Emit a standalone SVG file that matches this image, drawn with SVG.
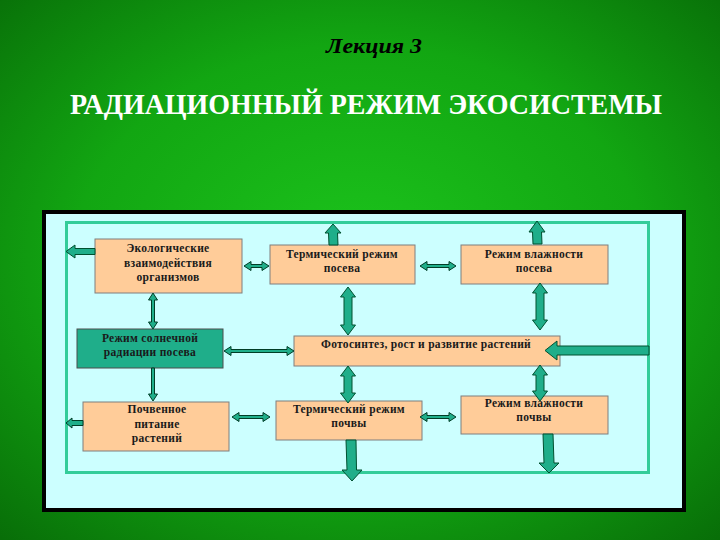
<svg xmlns="http://www.w3.org/2000/svg" width="720" height="540" viewBox="0 0 720 540">
  <defs>
    <radialGradient id="bg" cx="50%" cy="48%" r="72%">
      <stop offset="0" stop-color="#1cc41c"/>
      <stop offset="0.55" stop-color="#12a612"/>
      <stop offset="1" stop-color="#086e08"/>
    </radialGradient>
    <style>
      .box { fill: #ffcc99; stroke: #7f7f7f; stroke-width: 1; }
      .boxg { fill: #1fae8a; stroke: #4d4d4d; stroke-width: 1; }
      .t { font-family: 'Liberation Serif', 'Times New Roman', serif; font-weight: bold; font-size: 11.5px; letter-spacing: 0.3px; fill: #1a1a1a; text-anchor: middle; }
      .arr { fill: #1fae8a; stroke: #00502f; stroke-width: 1; stroke-linejoin: miter; }
      .thin { fill: #1fae8a; stroke: #003d26; stroke-width: 1; }
      .h1 { font-family: 'Liberation Serif', 'Times New Roman', serif; font-style: italic; font-weight: bold; font-size: 20px; fill: #000; text-anchor: middle; }
      .h2 { font-family: 'Liberation Serif', 'Times New Roman', serif; font-weight: bold; font-size: 29px; fill: #fff; text-anchor: middle; }
    </style>
  </defs>

  <rect x="0" y="0" width="720" height="540" fill="url(#bg)"/>

  <g id="titles">
    <text class="h1" x="374" y="53" textLength="96" lengthAdjust="spacingAndGlyphs">Лекция 3</text>
    <text class="h2" x="366" y="114" textLength="592" lengthAdjust="spacingAndGlyphs">РАДИАЦИОННЫЙ РЕЖИМ ЭКОСИСТЕМЫ</text>
  </g>

  <g id="frame">
    <rect x="44" y="212" width="640" height="298" fill="#ccffff" stroke="#000" stroke-width="4"/>
    <rect x="66.5" y="222.5" width="582" height="250" fill="none" stroke="#33cc99" stroke-width="3"/>
  </g>

  <g id="n-eco">
    <rect class="box" x="95" y="239" width="147" height="54"/>
    <text class="t" x="168" y="252">Экологические</text>
    <text class="t" x="168" y="267">взаимодействия</text>
    <text class="t" x="168" y="281">организмов</text>
  </g>
  <g id="n-term-posev">
    <rect class="box" x="270" y="245" width="145" height="39"/>
    <text class="t" x="342" y="258">Термический режим</text>
    <text class="t" x="342" y="272">посева</text>
  </g>
  <g id="n-vlag-posev">
    <rect class="box" x="461" y="245" width="147" height="39"/>
    <text class="t" x="534" y="258">Режим влажности</text>
    <text class="t" x="534" y="272">посева</text>
  </g>
  <g id="n-rad">
    <rect class="boxg" x="77" y="329" width="146" height="39"/>
    <text class="t" x="150" y="342">Режим солнечной</text>
    <text class="t" x="150" y="356">радиации посева</text>
  </g>
  <g id="n-foto">
    <rect class="box" x="294" y="336" width="266" height="30"/>
    <text class="t" x="426" y="348">Фотосинтез, рост и развитие растений</text>
  </g>
  <g id="n-pochv">
    <rect class="box" x="83" y="402" width="146" height="49"/>
    <text class="t" x="157" y="413">Почвенное</text>
    <text class="t" x="157" y="428">питание</text>
    <text class="t" x="157" y="442">растений</text>
  </g>
  <g id="n-term-pochv">
    <rect class="box" x="276" y="401" width="146" height="39"/>
    <text class="t" x="349" y="413">Термический режим</text>
    <text class="t" x="349" y="427">почвы</text>
  </g>
  <g id="n-vlag-pochv">
    <rect class="box" x="461" y="396" width="147" height="38"/>
    <text class="t" x="534" y="407">Режим влажности</text>
    <text class="t" x="534" y="421">почвы</text>
  </g>

  <g id="connectors">
    <path class="arr" d="M66,251.5 L75,245 L75,248.5 L95,248.5 L95,254.5 L75,254.5 L75,258 Z"/>
    <path class="thin" d="M244,266 L251,261.5 L251,264.5 L262,264.5 L262,261.5 L269,266 L262,270.5 L262,267.5 L251,267.5 L251,270.5 Z"/>
    <path class="thin" d="M420,266 L427,261.5 L427,264.5 L449,264.5 L449,261.5 L456,266 L449,270.5 L449,267.5 L427,267.5 L427,270.5 Z"/>
    <path class="arr" d="M333,224 L341,233 L337.5,233 L338,245 L329,245 L328.5,233 L325,233 Z"/>
    <path class="arr" d="M537,221 L545,232 L541.5,232 L542,244 L533,244 L532.5,232 L529,232 Z"/>
    <path class="thin" d="M153,293 L157.5,300 L154.5,300 L154.5,322 L157.5,322 L153,329 L148.5,322 L151.5,322 L151.5,300 L148.5,300 Z"/>
    <path class="arr" d="M348,287 L355.5,297 L352,297 L352,325 L355.5,325 L348,335 L340.5,325 L344,325 L344,297 L340.5,297 Z"/>
    <path class="arr" d="M540,283 L547.5,293 L544,293 L544,320 L547.5,320 L540,330 L532.5,320 L536,320 L536,293 L532.5,293 Z"/>
    <path class="thin" d="M224,351 L231,346.5 L231,349.5 L287,349.5 L287,346.5 L294,351 L287,355.5 L287,352.5 L231,352.5 L231,355.5 Z"/>
    <path class="arr" d="M545,350.5 L557,341 L557,346 L649,346 L649,355 L557,355 L557,360 Z"/>
    <path class="arr" d="M348,366 L355.5,376 L352,376 L352,393 L355.5,393 L348,403 L340.5,393 L344,393 L344,376 L340.5,376 Z"/>
    <path class="arr" d="M540,365 L547.5,375 L544,375 L544,391 L547.5,391 L540,401 L532.5,391 L536,391 L536,375 L532.5,375 Z"/>
    <path class="thin" d="M151.5,368 L154.5,368 L154.5,394 L157.5,394 L153,401 L148.5,394 L151.5,394 Z"/>
    <path class="thin" d="M66,423 L72,418 L72,420.5 L83,420.5 L83,425.5 L72,425.5 L72,428 Z"/>
    <path class="thin" d="M232,417 L239,412.5 L239,415.5 L263,415.5 L263,412.5 L270,417 L263,421.5 L263,418.5 L239,418.5 L239,421.5 Z"/>
    <path class="thin" d="M420,417 L427,412.5 L427,415.5 L449,415.5 L449,412.5 L456,417 L449,421.5 L449,418.5 L427,418.5 L427,421.5 Z"/>
    <path class="arr" d="M346,440 L356,440 L356.5,470 L362,470 L352,481 L342,470 L347,470 Z"/>
    <path class="arr" d="M543,434 L553,434 L554,463 L559,463 L549,473 L539,463 L544,463 Z"/>
  </g>
</svg>
